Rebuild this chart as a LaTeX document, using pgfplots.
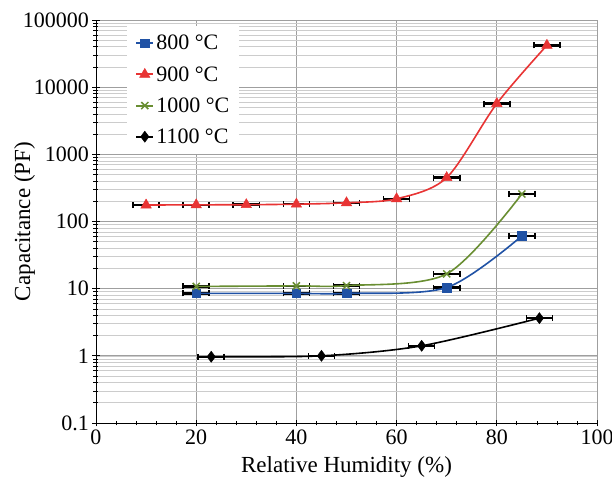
\documentclass[border=0pt]{standalone}
\usepackage{fontspec}
\setmainfont{Liberation Serif}
\usepackage{pgfplots}
\pgfplotsset{compat=1.18}
\definecolor{cblue}{RGB}{32,82,165}
\definecolor{cred}{RGB}{232,52,52}
\definecolor{cgreen}{RGB}{105,142,50}
\begin{document}
\begin{tikzpicture}
\useasboundingbox (-96pt,-54pt) rectangle (516pt,423pt);
\begin{axis}[
  at={(0pt,0pt)}, anchor=south west,
  scale only axis,
  width=501pt, height=403pt,
  ymode=log,
  xmin=0, xmax=100, ymin=0.1, ymax=100000,
  xtick={0,20,40,60,80,100},
  xticklabels={0,20,40,60,80,100},
  minor x tick num=4,
  ytick={0.1,1,10,100,1000,10000,100000},
  yticklabels={0.1,1,10,100,1000,10000,100000},
  axis x line*=bottom, axis y line*=left,
  axis line style={black, line width=0.8pt},
  tick align=center,
  major tick length=7pt, minor tick length=5pt,
  every tick/.style={black, line width=0.7pt},
  grid=both,
  major grid style={gray!75, line width=0.7pt},
  minor y grid style={gray!40, line width=0.6pt},
  minor x grid style={draw=none},
  tick label style={font=\fontsize{22}{25}\selectfont},
  xlabel={Relative Humidity (\%)},
  ylabel={Capacitance (PF)},
  label style={font=\fontsize{23}{26}\selectfont},
  xlabel style={at={(axis description cs:0.5,-0.124)}, anchor=base},
  ylabel style={at={(axis description cs:-0.1317,0.5)}, anchor=base, rotate=0},
  legend style={draw=none, fill=white, at={(0.062,0.985)}, anchor=north west,
    font=\fontsize{22}{25}\selectfont, row sep=11pt, inner xsep=8pt, inner ysep=7pt},
  legend cell align=left,
  legend image post style={line width=2pt},
]
% error bars first (behind markers)
\pgfplotsset{ebar/.style={forget plot, draw=none, mark=none,
  error bars/x dir=both, error bars/x explicit,
  error bars/error bar style={black, line width=2.4pt},
  error bars/error mark options={rotate=90, black, mark size=3pt, line width=1.6pt}}}
\addplot[ebar] coordinates {(20,8.5) +- (2.6,0) (40,8.5) +- (2.6,0) (50,8.5) +- (2.6,0) (70,10.4) +- (2.6,0) (85,61) +- (2.6,0)};
\addplot[ebar] coordinates {(10,176) +- (2.6,0) (20,177) +- (2.6,0) (30,178) +- (2.6,0) (40,181) +- (2.6,0) (50,190) +- (2.6,0) (60,218) +- (2.6,0) (70,450) +- (2.6,0) (80,5700) +- (2.6,0) (90,42000) +- (2.6,0)};
\addplot[ebar] coordinates {(20,10.8) +- (2.6,0) (40,11) +- (2.6,0) (50,11.1) +- (2.6,0) (70,16.6) +- (2.6,0) (85,257) +- (2.6,0)};
\addplot[ebar] coordinates {(23,0.97) +- (2.6,0) (45,1.0) +- (2.6,0) (65,1.41) +- (2.6,0) (88.5,3.64) +- (2.6,0)};
\addplot+[smooth, cblue, line width=1.6pt, mark=square*, mark size=4.3pt, mark options={fill=cblue, draw=cblue, line width=0.5pt}]
 coordinates {(20,8.5) (40,8.5) (50,8.5) (70,10.4) (85,61)};
\addlegendentry{800 °C}
\addplot+[smooth, cred, line width=1.6pt, mark=triangle*, mark size=6pt, mark options={fill=cred, draw=cred, line width=0.5pt}]
 coordinates {(10,176) (20,177) (30,178) (40,181) (50,190) (60,218) (70,450) (80,5700) (90,42000)};
\addlegendentry{900 °C}
\addplot+[smooth, cgreen, line width=1.6pt, mark=x, mark size=5pt, mark options={draw=cgreen, line width=1.5pt}]
 coordinates {(20,10.8) (40,11) (50,11.1) (70,16.6) (85,257)};
\addlegendentry{1000 °C}
\addplot+[smooth, black, line width=1.6pt, mark=diamond*, mark size=5.5pt, mark options={fill=black, draw=black, line width=0.5pt}]
 coordinates {(23,0.97) (45,1.0) (65,1.41) (88.5,3.64)};
\addlegendentry{1100 °C}
\end{axis}
\end{tikzpicture}
\end{document}
